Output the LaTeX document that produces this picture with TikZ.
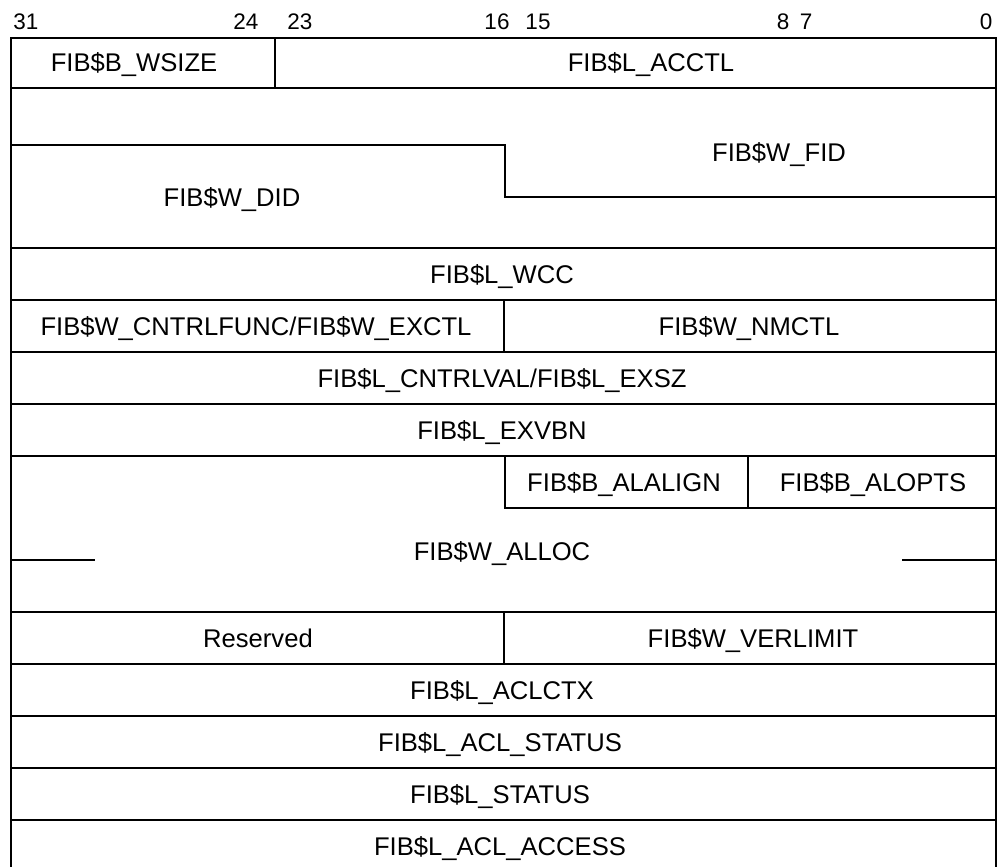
\documentclass[tikz,border=0pt]{standalone}
\usepackage{fontspec}
\setmainfont{Liberation Sans}
\begin{document}
\begin{tikzpicture}[x=1pt,y=-1pt,
  rowline/.style={line width=2pt},
  innerline/.style={line width=1.6pt},
  fld/.style={font=\fontsize{25.6}{30}\selectfont, inner sep=0pt, text height=18pt, text depth=0pt},
  bitno/.style={font=\fontsize{22.5}{26}\selectfont, inner sep=0pt, text height=15pt, text depth=0pt}]
\useasboundingbox (0,0) rectangle (1002,867);
\clip (0,0) rectangle (1002,867);
% outer frame
\draw[innerline] (11,872) -- (11,38) -- (996,38) -- (996,872);
% row separators
\foreach \yy in {88,248,300,352,404,456,612,664,716,768,820}
  \draw[rowline] (11,\yy) -- (996,\yy);
% vertical dividers
\draw[innerline] (275,38) -- (275,88);
\draw[innerline] (504,300) -- (504,352);
\draw[innerline] (504,612) -- (504,664);
% DID / FID step
\draw[innerline] (11,145) -- (505,145) -- (505,197) -- (996,197);
% ALLOC region
\draw[innerline] (505,456) -- (505,508) -- (996,508);
\draw[innerline] (748,456) -- (748,508);
\draw[innerline] (11,560) -- (95,560);
\draw[innerline] (902,560) -- (996,560);
% bit numbers
\node[bitno] (b31) at (26,22) {31};
\node[bitno] (b24) at (246,22) {24};
\node[bitno] (b23) at (300,22) {23};
\node[bitno] (b16) at (497,22) {16};
\node[bitno] (b15) at (538,22) {15};
\node[bitno] (b8) at (783,22) {8};
\node[bitno] (b7) at (806,22) {7};
\node[bitno] (b0) at (986,22) {0};
% field labels
\node[fld] (wsize) at (134,63) {FIB\$B\_WSIZE};
\node[fld] (acctl) at (651,63) {FIB\$L\_ACCTL};
\node[fld] (fid) at (779,152) {FIB\$W\_FID};
\node[fld] (did) at (232,197) {FIB\$W\_DID};
\node[fld] (wcc) at (502,274) {FIB\$L\_WCC};
\node[fld] (cntrlfunc) at (256,326) {FIB\$W\_CNTRLFUNC/FIB\$W\_EXCTL};
\node[fld] (nmctl) at (749,326) {FIB\$W\_NMCTL};
\node[fld] (cntrlval) at (502,378) {FIB\$L\_CNTRLVAL/FIB\$L\_EXSZ};
\node[fld] (exvbn) at (502,430) {FIB\$L\_EXVBN};
\node[fld] (alalign) at (624,482) {FIB\$B\_ALALIGN};
\node[fld] (alopts) at (873,482) {FIB\$B\_ALOPTS};
\node[fld] (alloc) at (502,551) {FIB\$W\_ALLOC};
\node[fld] (reserved) at (258,638) {Reserved};
\node[fld] (verlimit) at (753,638) {FIB\$W\_VERLIMIT};
\node[fld] (aclctx) at (502,690) {FIB\$L\_ACLCTX};
\node[fld] (aclstatus) at (500,742) {FIB\$L\_ACL\_STATUS};
\node[fld] (status) at (500,794) {FIB\$L\_STATUS};
\node[fld] (access) at (500,846) {FIB\$L\_ACL\_ACCESS};
\end{tikzpicture}
\end{document}
